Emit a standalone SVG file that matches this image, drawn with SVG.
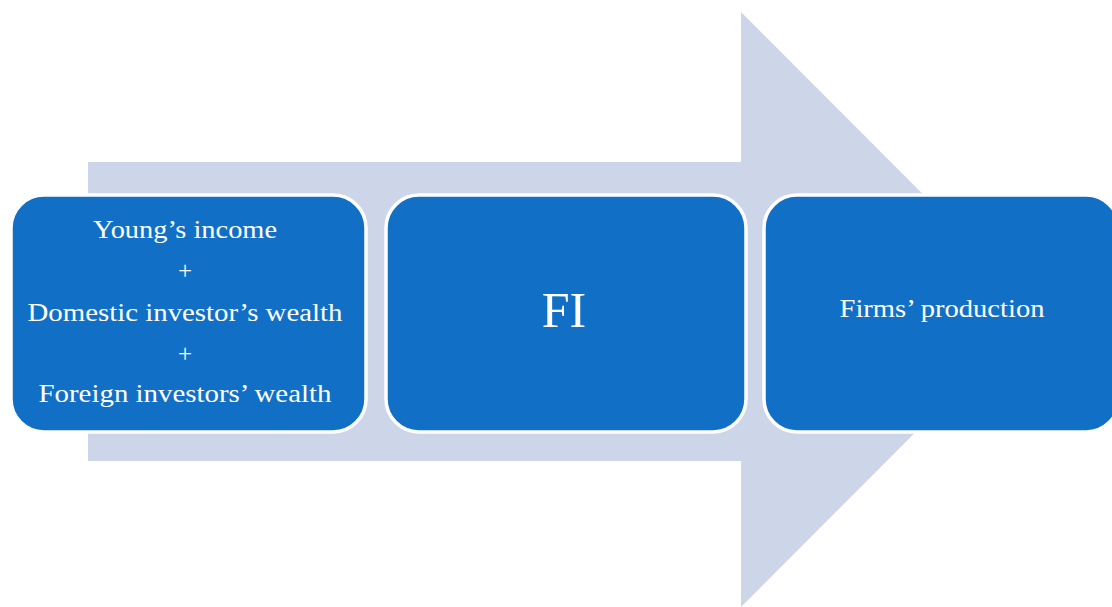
<svg xmlns="http://www.w3.org/2000/svg" width="1112" height="607" viewBox="0 0 1112 607">
<style>
.box{fill:#1170C6;stroke:#FFFFFF;stroke-width:3.5}
.t{font-family:"Liberation Serif","DejaVu Serif",serif;fill:#FFFFFF;text-anchor:middle;font-size:25px}
</style>
<rect width="1112" height="607" fill="#FFFFFF"/>
<g id="connectors">
<polygon points="88,162 741,162 741,12 1038,309.5 741,607 741,461 88,461" fill="#CDD5E9"/>
</g>
<g id="node1">
<rect class="box" x="11" y="195" width="355" height="237" rx="33"/>
<text class="t" x="185" y="238" textLength="184" lengthAdjust="spacingAndGlyphs">Young’s income</text>
<text class="t" x="185" y="279">+</text>
<text class="t" x="185" y="321" textLength="315" lengthAdjust="spacingAndGlyphs">Domestic investor’s wealth</text>
<text class="t" x="185" y="362">+</text>
<text class="t" x="185" y="402" textLength="293" lengthAdjust="spacingAndGlyphs">Foreign investors’ wealth</text>
</g>
<g id="node2">
<rect class="box" x="386" y="195" width="360" height="237" rx="33"/>
<text class="t" x="564" y="327" style="font-size:50px">FI</text>
</g>
<g id="node3">
<rect class="box" x="764" y="195" width="355" height="237" rx="33"/>
<text class="t" x="942" y="317" textLength="205" lengthAdjust="spacingAndGlyphs">Firms’ production</text>
</g>
</svg>
